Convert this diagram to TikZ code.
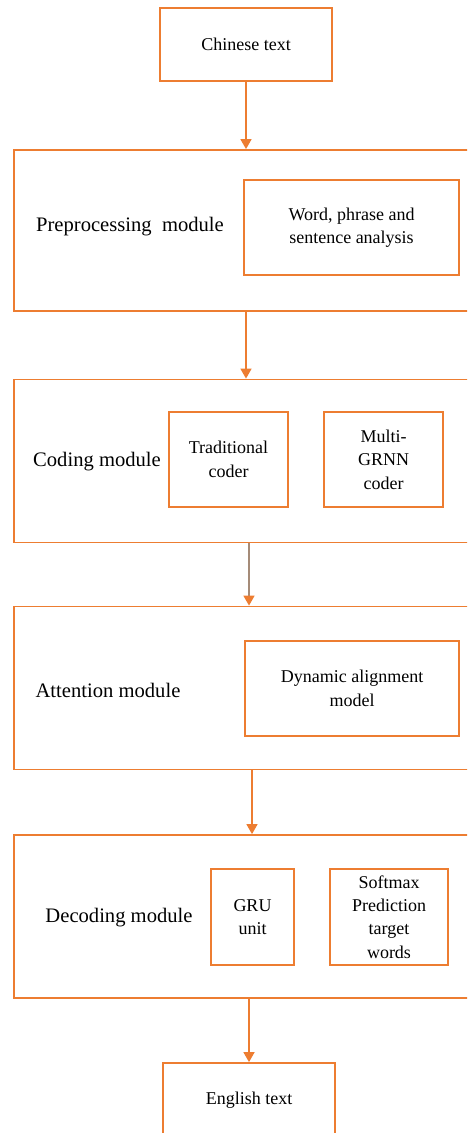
\documentclass[tikz,border=0pt]{standalone}
\usepackage{fontspec}
\setmainfont{Liberation Serif}
\usetikzlibrary{arrows.meta}
\definecolor{orng}{HTML}{ED7D31}
\definecolor{tan}{HTML}{A58B78}

\begin{document}
\begin{tikzpicture}[x=0.5pt,y=-0.5pt,font=\fontsize{9}{11.7}\selectfont,
  >={Triangle[length=5pt,width=5.5pt]},
  box/.style={draw=orng,line width=0.9pt,align=center,inner sep=1pt},
  modbox/.style={box,minimum width=233pt,minimum height=81.5pt},
  lbl/.style={font=\fontsize{10.3}{12}\selectfont,inner sep=0pt},
  link/.style={->,draw=orng,line width=0.8pt}]
\useasboundingbox (0,0) rectangle (467,1133);
\clip (0,0) rectangle (467,1133);
% end points
\node[box,minimum width=86pt,minimum height=36.5pt] (zh) at (246,44.5) {Chinese text};
\node[box,minimum width=86pt,minimum height=37pt] (en) at (249,1100) {English text};
% modules
\node[modbox,minimum height=80.5pt] (pre) at (247,230.5) {};
\node[modbox] (cod) at (247,461) {};
\node[modbox] (att) at (247,688) {};
\node[modbox] (dec) at (247,916.5) {};
\node[lbl] (prel) at (130,227) {Preprocessing\ \ module};
\node[lbl] (codl) at (97,462) {Coding module};
\node[lbl] (attl) at (108,690) {Attention module};
\node[lbl] (decl) at (119,918) {Decoding module};
% sub-blocks
\node[box,minimum width=107.5pt,minimum height=47.5pt] (wps) at (351.5,227.5) {Word, phrase and\\sentence analysis};
\node[box,minimum width=59.5pt,minimum height=47.5pt] (trc) at (228.5,459.5) {Traditional\\coder};
\node[box,minimum width=59.5pt,minimum height=47.5pt] (mgc) at (383.5,459.5) {Multi-\\GRNN\\coder};
\node[box,minimum width=107pt,minimum height=47.5pt] (dam) at (352,688.5) {Dynamic alignment\\model};
\node[box,minimum width=41.5pt,minimum height=48pt] (gru) at (252.5,917) {GRU\\unit};
\node[box,minimum width=59pt,minimum height=48pt] (smx) at (389,917) {Softmax\\Prediction\\target\\words};
% flow
\draw[link] (zh.south) -- (zh.south |- pre.north);
\draw[link] ([xshift=-0.5pt]pre.south) -- ([xshift=-0.5pt]pre.south |- cod.north);
\draw[link,draw=tan,-{Triangle[length=5pt,width=5.5pt,color=orng]}] ([xshift=1pt]cod.south) -- ([xshift=1pt]cod.south |- att.north);
\draw[link] ([xshift=2.5pt]att.south) -- ([xshift=2.5pt]att.south |- dec.north);
\draw[link] (en.north |- dec.south) -- (en.north);
\end{tikzpicture}
\end{document}
